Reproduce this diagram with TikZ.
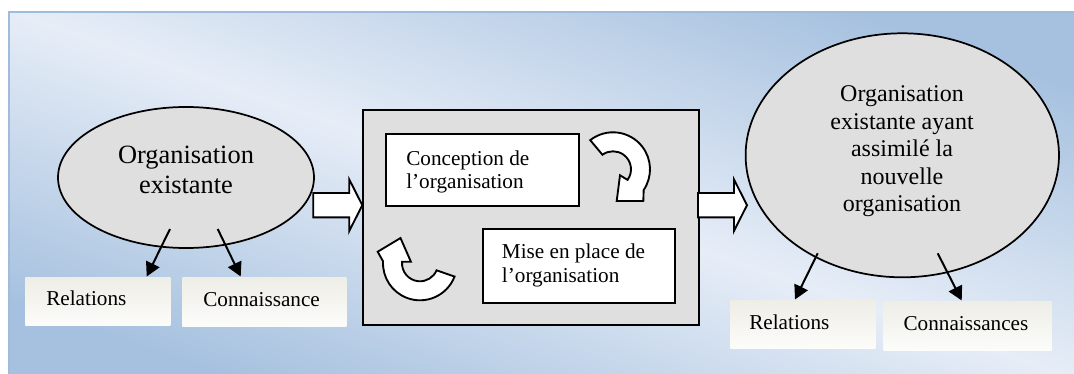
\documentclass[tikz,border=0pt]{standalone}
\usepackage{fontspec}
\setmainfont{Liberation Serif}
\usetikzlibrary{shapes.geometric,arrows.meta,calc}
\definecolor{bgA}{HTML}{E6EDF7}
\definecolor{bgB}{HTML}{A6C1DF}
\definecolor{bgline}{HTML}{A0BCDC}
\definecolor{ellfill}{HTML}{DFDFDF}
\definecolor{boxtop}{HTML}{EEEDE6}
\definecolor{boxbot}{HTML}{FCFCFA}
\begin{document}
\begin{tikzpicture}[x=0.75pt,y=-0.75pt,
  ell/.style={ellipse, draw=black, line width=1.3pt, fill=ellfill, inner sep=0pt},
  graybox/.style={rectangle, draw=black, line width=1.4pt, fill=ellfill, inner sep=0pt, anchor=north west},
  whitebox/.style={rectangle, draw=black, line width=1.5pt, fill=white, inner sep=0pt, anchor=north west},
  labelbox/.style={rectangle, top color=boxtop, bottom color=boxbot, draw=none, inner sep=0pt, anchor=north west},
  smalltxt/.style={font=\fontsize{15.9pt}{17.5pt}\selectfont, inner sep=0pt, align=left},
  conn/.style={line width=1.5pt, -{Triangle[length=10.5pt,width=11pt]}},
  blockarrow/.style={draw=black, line width=1.4pt, fill=white, line join=miter},
  circarrow/.pic={\draw[blockarrow] (-128:37) arc[start angle=-128,end angle=34,radius=37]
      -- (30.3,31.7) -- (3.7,31.7) -- (7,6) -- (36:18)
      arc[start angle=36,end angle=-126,radius=18] -- cycle;},
  bigarrow/.pic={\draw[blockarrow] (0,-12.2) -- (36,-12.2) -- (36,-25.7) -- (49,0)
      -- (36,25.7) -- (36,12.2) -- (0,12.2) -- cycle;}
]
\useasboundingbox (0,0) rectangle (1074,374);
% background
\shade[top color=bgB, bottom color=bgB, middle color=bgA, shading angle=-19] (9,12) rectangle (1078,378);
\draw[bgline, line width=1.2pt] (9,12) rectangle (1078,378);

% left ellipse
\node[ell, minimum width=192pt, minimum height=105.75pt] (le) at (186,177.5) {};
\node[font=\fontsize{19.8pt}{22.9pt}\selectfont, align=center, inner sep=0pt] (lt) at (186,169.7) {Organisation\\existante};

% right ellipse
\node[ell, minimum width=235pt, minimum height=183pt] (re) at (902.3,155.3) {};
\node[font=\fontsize{18pt}{20.7pt}\selectfont, align=center, inner sep=0pt] (rt) at (902,151.3) {Organisation\\existante ayant\\assimilé la\\nouvelle\\organisation};

% centre box
\node[graybox, minimum width=252pt, minimum height=161pt] (cb) at (362,109.3) {};
\node[whitebox, minimum width=144.75pt, minimum height=54.2pt] (conc) at (385.3,132.7) {};
\node[whitebox, minimum width=144.45pt, minimum height=55pt] (mise) at (481.7,228.3) {};
\node[smalltxt, anchor=west] (conct) at (406,171.7) {Conception de\\l’organisation};
\node[smalltxt, anchor=west] (miset) at (501.7,265.4) {Mise en place de\\l’organisation};
\pic at (613,169.3) {circarrow};
\pic[rotate=-149] at (420,263.3) {circarrow};

% label boxes
\node[labelbox, minimum width=108.75pt, minimum height=36.5pt] (rel1) at (25,277) {};
\node[labelbox, minimum width=123pt, minimum height=36.75pt] (con1) at (182,277) {};
\node[labelbox, minimum width=108.75pt, minimum height=36.2pt] (rel2) at (730,300) {};
\node[labelbox, minimum width=126.3pt, minimum height=36.75pt] (con2) at (883.3,301) {};
\node[smalltxt, anchor=base west] (rel1t) at (46,305.5) {Relations};
\node[smalltxt, anchor=base west] (con1t) at (203,306) {Connaissance};
\node[smalltxt, anchor=base west] (rel2t) at (749,329) {Relations};
\node[smalltxt, anchor=base west] (con2t) at (903.3,330) {Connaissances};

% block arrows
\pic at (313.3,205.2) {bigarrow};
\pic at (698,205.2) {bigarrow};

% connectors
\coordinate (l1s) at (170,229);   \coordinate (l1e) at (146.7,276.5);
\coordinate (l2s) at (217.7,229); \coordinate (l2e) at (240.7,276.5);
\coordinate (r1s) at (817.7,253.3); \coordinate (r1e) at (795,299.5);
\coordinate (r2s) at (937.7,253.3); \coordinate (r2e) at (961.7,300.5);
\draw[conn] (l1s) -- (l1e);
\draw[conn] (l2s) -- (l2e);
\draw[conn] (r1s) -- (r1e);
\draw[conn] (r2s) -- (r2e);
\end{tikzpicture}
\end{document}
